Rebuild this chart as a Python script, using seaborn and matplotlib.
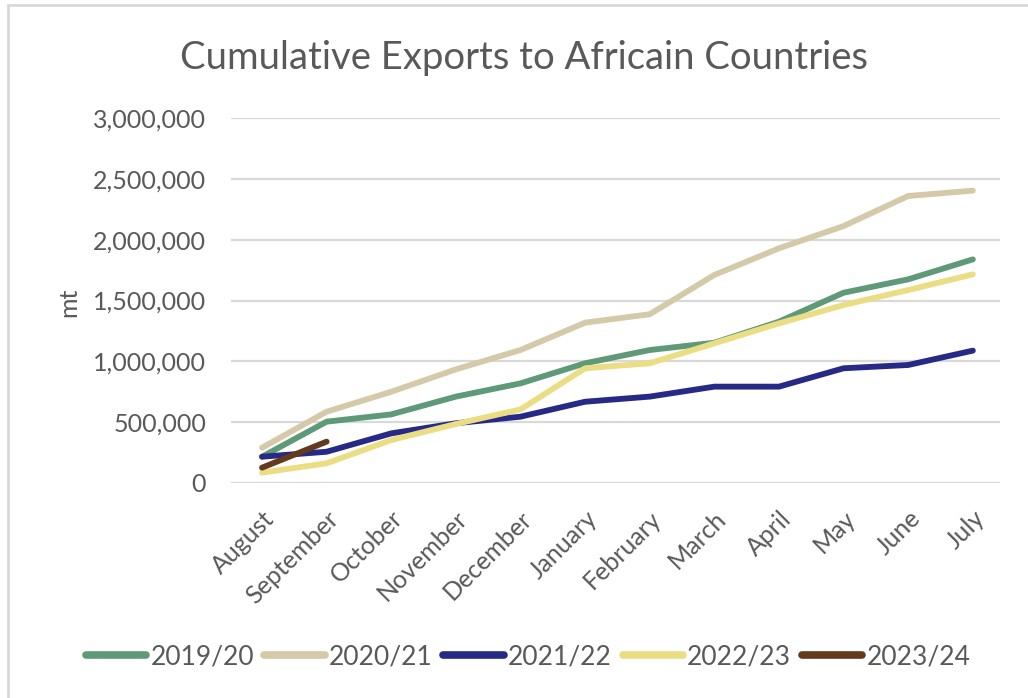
import numpy as np
import pandas as pd
import matplotlib
matplotlib.use("Agg")
import matplotlib.pyplot as plt
from matplotlib.lines import Line2D
from matplotlib.ticker import FuncFormatter
import seaborn as sns

months = ["August", "September", "October", "November", "December", "January",
          "February", "March", "April", "May", "June", "July"]
seasons = ["2019/20", "2020/21", "2021/22", "2022/23", "2023/24"]
v_2019_20 = [216000, 504000, 564000, 710000, 819000, 984000, 1093000, 1153000, 1326000, 1564000, 1674000, 1838000]
v_2020_21 = [290000, 586000, 750000, 934000, 1093000, 1318000, 1387000, 1710000, 1929000, 2112000, 2359000, 2403000]
v_2021_22 = [216000, 257000, 408000, 491000, 545000, 668000, 710000, 792000, 792000, 943000, 970000, 1088000]
v_2022_23 = [85000, 162000, 353000, 485000, 605000, 943000, 984000, 1148000, 1312000, 1463000, 1586000, 1715000]
v_2023_24 = [126000, 340000]
colors = ["#5e9a78", "#d4c9a9", "#262a86", "#ebdd84", "#643a1f"]

series = [v_2019_20, v_2020_21, v_2021_22, v_2022_23, v_2023_24]
rows = []
for s, vals in zip(seasons, series):
    for m, v in zip(months, vals):
        rows.append({"Month": m, "Season": s, "mt": v})
df = pd.DataFrame(rows)
df["Month"] = pd.Categorical(df["Month"], categories=months, ordered=True)
df["pos"] = df["Month"].cat.codes

sns.set_theme(style="white")
FONT = ["Lato", "DejaVu Sans"]
plt.rcParams["font.family"] = FONT
grey = "#595959"

fig = plt.figure(figsize=(10.28, 6.98), dpi=100)
ax = fig.add_axes([231/1028, 1-483/698, (1000-231)/1028, (483-118)/698])

sns.lineplot(data=df, x="pos", y="mt", hue="Season", hue_order=seasons,
             palette=colors, linewidth=4.2, ax=ax, legend=False, sort=True)
for ln in ax.get_lines():
    ln.set_solid_capstyle("round")
    ln.set_solid_joinstyle("round")

ax.set_xlim(-0.48, 11.42)
ax.set_ylim(0, 3000000)
ax.set_yticks(np.arange(0, 3000001, 500000))
ax.yaxis.set_major_formatter(FuncFormatter(lambda v, p: f"{int(v):,}"))
ax.grid(axis="y", color="#d9d9d9", linewidth=1.6)
ax.grid(axis="x", visible=False)
for sp in ax.spines.values():
    sp.set_visible(False)
ax.tick_params(axis="y", length=0, pad=18, labelsize=18, labelcolor=grey)
ax.set_xticks(range(len(months)))
ax.set_xticklabels(months, rotation=45, ha="right", va="top", rotation_mode="anchor")
ax.tick_params(axis="x", length=0, pad=17, labelsize=18, labelcolor=grey)
ax.set_xlabel("")
ax.set_ylabel("")
ax.set_axisbelow(True)

fig.text(69/1028, 1-302/698, "mt", rotation=90, ha="center", va="center",
         fontsize=18, color=grey)
fig.text(524/1028, 1-58/698, "Cumulative Exports to Africain Countries",
         ha="center", va="center", fontsize=27.5, color=grey)

handles = [Line2D([0], [0], color=c, linewidth=5.5, solid_capstyle="round") for c in colors]
fig.legend(handles, seasons, loc="center", bbox_to_anchor=(528/1028, 1-657/698),
           ncol=5, frameon=False, fontsize=19, labelcolor=grey,
           handlelength=2.3, handletextpad=0.15, columnspacing=0.4)

# chart border (left/top visible)
fig.add_artist(Line2D([8/1028, 8/1028], [0, 1-5/698], color="#d9d9d9", linewidth=2, transform=fig.transFigure))
fig.add_artist(Line2D([8/1028, 1], [1-5/698, 1-5/698], color="#d9d9d9", linewidth=2, transform=fig.transFigure))

fig.savefig("out.png", dpi=100)
